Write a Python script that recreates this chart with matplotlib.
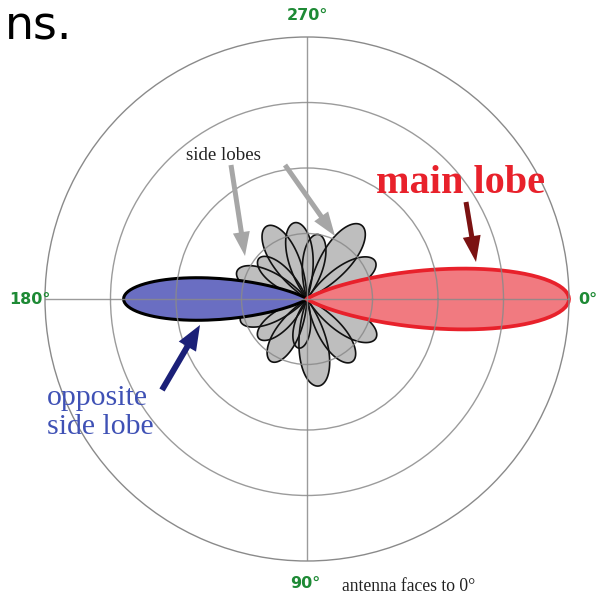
import numpy as np
import matplotlib.pyplot as plt

## lobe directions (deg, clockwise from 0 deg = right) and lengths (ring units)
side_dirs = [261, 241, 280, 306.5, 331, 220, 201.6, 161.5, 141, 120, 99.6, 82.4, 54, 29.7]
side_lens = [1.18, 1.27, 1.0, 1.40, 1.19, 0.96, 1.15, 1.07, 0.95, 1.10, 0.76, 1.34, 1.18, 1.21]
main_dir, main_len = 0, 4.0
back_dir, back_len = 180, 2.8
ring_r = [1, 2, 3, 4]
angle_ticks = [0, 90, 180, 270]
angle_labels = ['0°', '90°', '180°', '270°']


def lobe(direction, length, n=301):
    # teardrop beam shape
    phi = np.linspace(-np.pi / 2, np.pi / 2, n)
    r = length * np.exp(-13.5 * phi ** 2)
    return np.deg2rad(direction) + phi, r


def petal(direction, length, k=3.3, n=121):
    # blunt rose petal
    phi = np.linspace(-np.pi / (2 * k), np.pi / (2 * k), n)
    r = length * np.cos(k * phi)
    return np.deg2rad(direction) + phi, r


W, H = 601, 596
fig = plt.figure(figsize=(W / 100, H / 100), dpi=100)
cx, cy, R = 307, 299, 262
ax = fig.add_axes([(cx - R) / W, (H - cy - R) / H, 2 * R / W, 2 * R / H], projection='polar')
ax.set_theta_zero_location('E')
ax.set_theta_direction(-1)
ax.set_rlim(0, ring_r[-1])
ax.set_yticks(ring_r[:-1])
ax.set_yticklabels([])
ax.set_xticks(np.deg2rad(angle_ticks))
ax.set_xticklabels([])
ax.set_axisbelow(False)
ax.grid(True, color='#8a8a8a', lw=1.0, alpha=0.85)
ax.spines['polar'].set_color('#8a8a8a')
ax.spines['polar'].set_linewidth(1.0)

# side lobes: fills first, then outlines
shapes = [petal(d, l) for d, l in zip(side_dirs, side_lens)]
for t, r in shapes:
    ax.fill(t, r, facecolor='#bebebe', edgecolor='none', zorder=1.0)
for t, r in shapes:
    ax.plot(t, r, color='#111111', lw=1.2, zorder=1.1)

t, r = lobe(back_dir, back_len)
ax.fill(t, r, facecolor='#6a6ec2', edgecolor='none', zorder=1.2)
ax.plot(t, r, color='black', lw=2.2, zorder=1.3)

t, r = lobe(main_dir, main_len)
ax.fill(t, r, facecolor='#f17a80', edgecolor='none', zorder=1.4, clip_on=False)
ax.plot(t, r, color='#e8212b', lw=2.7, zorder=1.5, clip_on=False)

# overlay in pixel coords for labels and arrows
ov = fig.add_axes([0, 0, 1, 1])
ov.set_xlim(0, W)
ov.set_ylim(H, 0)
ov.axis('off')

green = '#1e8a35'
ov.text(578, 300, angle_labels[0], color=green, fontsize=11.5, fontweight='bold', ha='left', va='center')
ov.text(305, 583, angle_labels[1], color=green, fontsize=11.5, fontweight='bold', ha='center', va='center')
ov.text(51, 300, angle_labels[2], color=green, fontsize=11.5, fontweight='bold', ha='right', va='center')
ov.text(307, 15, angle_labels[3], color=green, fontsize=11.5, fontweight='bold', ha='center', va='center')

ov.text(5, 40, 'ns.', fontsize=33, color='black', ha='left', va='baseline')
ov.text(460, 193, 'main lobe', family='Liberation Serif', fontweight='bold', fontsize=29,
        color='#e8212b', ha='center', va='baseline')
ov.text(47, 405, 'opposite', family='Liberation Serif', fontsize=21.5, color='#3f51b5', ha='left', va='baseline')
ov.text(47, 434, 'side lobe', family='Liberation Serif', fontsize=21.5, color='#3f51b5', ha='left', va='baseline')
ov.text(186, 160, 'side lobes', family='Liberation Serif', fontsize=13.6, color='#222222', ha='left', va='baseline')
ov.text(342, 591, 'antenna faces to 0°', family='Liberation Serif', fontsize=12.7, color='#222222',
        ha='left', va='baseline')

# arrows (tail -> tip)
arrows = [((231, 165), (245, 256), '#a6a6a6', 5, 17, 24),
          ((285, 165), (335, 236), '#a6a6a6', 5, 17, 24),
          ((466, 202), (476, 262), '#7b1212', 5, 18, 26),
          ((162, 390), (200, 325), '#1b2078', 6, 20, 25)]
for (x0, y0), (x1, y1), c, w, hw, hl in arrows:
    ov.arrow(x0, y0, x1 - x0, y1 - y0, width=w, head_width=hw, head_length=hl,
             length_includes_head=True, color=c, lw=0)

fig.savefig('out.png', dpi=100)
